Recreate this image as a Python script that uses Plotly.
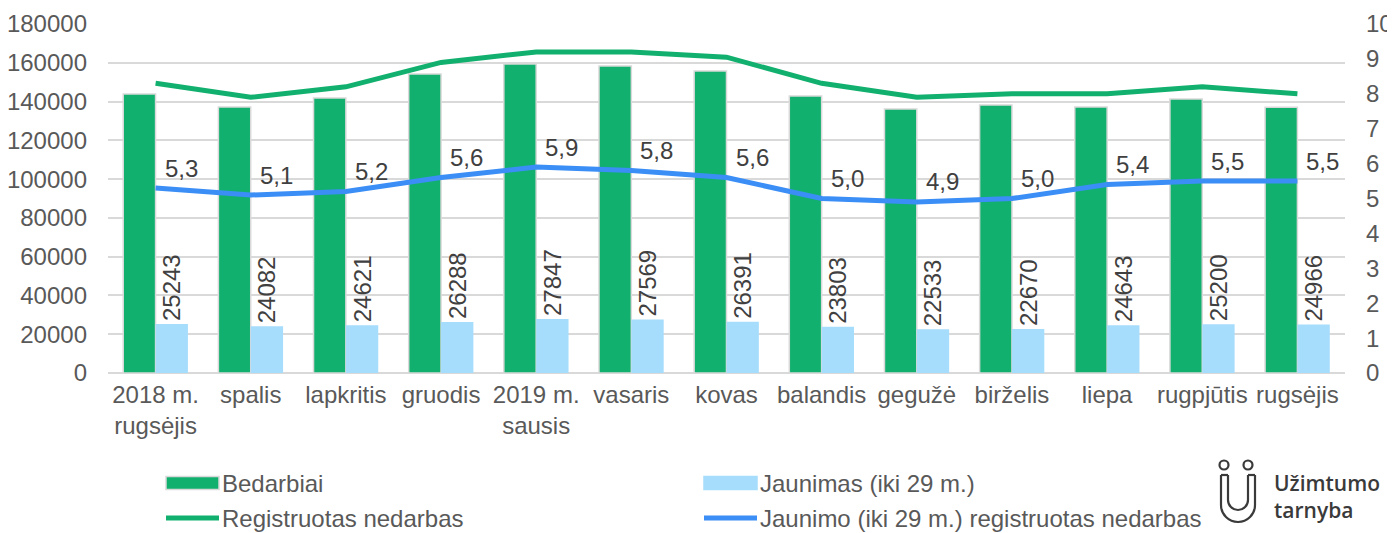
import plotly.graph_objects as go

categories = ["2018 m.<br>rugsėjis", "spalis", "lapkritis", "gruodis", "2019 m.<br>sausis",
              "vasaris", "kovas", "balandis", "gegužė", "birželis", "liepa", "rugpjūtis", "rugsėjis"]
bedarbiai = [143900, 137200, 141800, 154200, 159400, 158300, 155800, 142900, 136200, 138200, 137200, 141300, 137000]
jaunimas = [25243, 24082, 24621, 26288, 27847, 27569, 26391, 23803, 22533, 22670, 24643, 25200, 24966]
registruotas = [8.3, 7.9, 8.2, 8.9, 9.2, 9.2, 9.05, 8.3, 7.9, 8.0, 8.0, 8.2, 8.0]
jaunimo_nedarbas = [5.3, 5.1, 5.2, 5.6, 5.9, 5.8, 5.6, 5.0, 4.9, 5.0, 5.4, 5.5, 5.5]
left_ticks = list(range(0, 180001, 20000))
right_ticks = list(range(0, 11))

GREEN = "#12B06E"
LIGHTBLUE = "#A6DDFC"
BLUE = "#3A8EF6"
GRID = "#D9D9D9"
TXT = "#595959"
LBL = "#404040"
FONT = "Liberation Sans, Arial, sans-serif"

# page body has an 8px margin; figure is sized so it fits the 1395x533 window
OFF = 8
W, H = 1395 - OFF, 533 - OFF
PL, PR, PT, PB = 108, 1345, 24, 373  # plot area in page pixels
L, T = PL - OFF, PT - OFF
R, B = W - (PR - OFF), H - (PB - OFF)
PW, PH = PR - PL, PB - PT


def px(x):
    return (x - PL) / PW


def py(y):
    return (PB - y) / PH


fig = go.Figure()
fig.add_trace(go.Bar(x=categories, y=bedarbiai, name="Bedarbiai", marker=dict(color=GREEN, line=dict(color=GRID, width=1.5)),
                     showlegend=False, yaxis="y"))
fig.add_trace(go.Bar(x=categories, y=jaunimas, name="Jaunimas (iki 29 m.)", marker=dict(color=LIGHTBLUE, line=dict(width=0)),
                     text=[str(v) for v in jaunimas], textposition="outside", textangle=-90, constraintext="none",
                     textfont=dict(size=24, color=LBL, family=FONT), cliponaxis=False, showlegend=False, yaxis="y"))
fig.add_trace(go.Scatter(x=categories, y=registruotas, name="Registruotas nedarbas", mode="lines",
                         line=dict(color=GREEN, width=5), showlegend=False, yaxis="y2"))
fig.add_trace(go.Scatter(x=categories, y=jaunimo_nedarbas, name="Jaunimo (iki 29 m.) registruotas nedarbas",
                         mode="lines", line=dict(color=BLUE, width=5), showlegend=False, yaxis="y2"))

shapes = []
annotations = []
# data labels of the youth unemployment line
for c, v in zip(categories, jaunimo_nedarbas):
    annotations.append(dict(x=c, y=v, xref="x", yref="y2", text=f"{v:.1f}".replace(".", ","), showarrow=False,
                            xanchor="left", yanchor="middle", xshift=7, yshift=20,
                            font=dict(size=24, color=LBL, family=FONT)))

# manual legend
legend_items = [
    ("rect", GREEN, 166, 483, "Bedarbiai"),
    ("rect", LIGHTBLUE, 704, 483, "Jaunimas (iki 29 m.)"),
    ("line", GREEN, 166, 518, "Registruotas nedarbas"),
    ("line", BLUE, 704, 518, "Jaunimo (iki 29 m.) registruotas nedarbas"),
]
for kind, col, x0, yc, label in legend_items:
    if kind == "rect":
        shapes.append(dict(type="rect", xref="paper", yref="paper", x0=px(x0), x1=px(x0 + 53), y0=py(yc - 6.5), y1=py(yc + 6.5),
                           fillcolor=col, line=dict(color=GRID if col == GREEN else col, width=1.5)))
    else:
        shapes.append(dict(type="line", xref="paper", yref="paper", x0=px(x0), x1=px(x0 + 53), y0=py(yc), y1=py(yc),
                           line=dict(color=col, width=5)))
    annotations.append(dict(xref="paper", yref="paper", x=px(x0 + 54), y=py(yc), text=label, showarrow=False,
                            xanchor="left", yanchor="middle", font=dict(size=24, color=TXT, family=FONT)))

# logo
LOGO = "#3A3A3A"
for cx in (1224, 1248):
    shapes.append(dict(type="circle", xref="paper", yref="paper", x0=px(cx - 4.5), x1=px(cx + 4.5), y0=py(465 - 4.5), y1=py(465 + 4.5),
                       line=dict(color=LOGO, width=2.2)))


def u_path(xl, xr, ytop, ystart):
    r = (xr - xl) / 2
    cx = (xl + xr) / 2
    k = 0.5523 * r
    pts = [f"M{px(xl)},{py(ytop)}", f"L{px(xl)},{py(ystart)}",
           f"C{px(xl)},{py(ystart + k)} {px(cx - k)},{py(ystart + r)} {px(cx)},{py(ystart + r)}",
           f"C{px(cx + k)},{py(ystart + r)} {px(xr)},{py(ystart + k)} {px(xr)},{py(ystart)}",
           f"L{px(xr)},{py(ytop)}"]
    return " ".join(pts)


shapes.append(dict(type="path", xref="paper", yref="paper", path=u_path(1221, 1255, 475, 505), line=dict(color=LOGO, width=2.2)))
shapes.append(dict(type="path", xref="paper", yref="paper", path=u_path(1228, 1248, 475, 500), line=dict(color=LOGO, width=2.2)))
shapes.append(dict(type="line", xref="paper", yref="paper", x0=px(1221), x1=px(1228), y0=py(475), y1=py(475), line=dict(color=LOGO, width=2.2)))
shapes.append(dict(type="line", xref="paper", yref="paper", x0=px(1248), x1=px(1255), y0=py(475), y1=py(475), line=dict(color=LOGO, width=2.2)))
annotations.append(dict(xref="paper", yref="paper", x=px(1272), y=py(496), text="Užimtumo<br>tarnyba", showarrow=False,
                        xanchor="left", yanchor="middle", align="left",
                        font=dict(size=21, color=LOGO, family="Open Sans, sans-serif", weight=600)))

fig.update_layout(
    width=W, height=H,
    margin=dict(l=L, r=R, t=T, b=B, autoexpand=False),
    paper_bgcolor="white", plot_bgcolor="white",
    barmode="group", bargap=0.32, bargroupgap=0,
    font=dict(family=FONT, color=TXT, size=24),
    xaxis=dict(type="category", tickfont=dict(size=24, color=TXT), showgrid=False, showline=False, ticks="",
               ticklabelstandoff=5, automargin=False),
    yaxis=dict(range=[0, 180000], tickvals=left_ticks, tickformat="d", showgrid=True, gridcolor=GRID, gridwidth=1.5,
               zeroline=True, zerolinecolor=GRID, zerolinewidth=1.5, tickfont=dict(size=24, color=TXT),
               ticklabelstandoff=20, automargin=False),
    yaxis2=dict(range=[0, 10], tickvals=right_ticks, overlaying="y", side="right", showgrid=False, zeroline=False,
                tickfont=dict(size=24, color=TXT), ticklabelstandoff=20, automargin=False),
    shapes=shapes,
    annotations=annotations,
    showlegend=False,
)

fig.write_html("out.html")
